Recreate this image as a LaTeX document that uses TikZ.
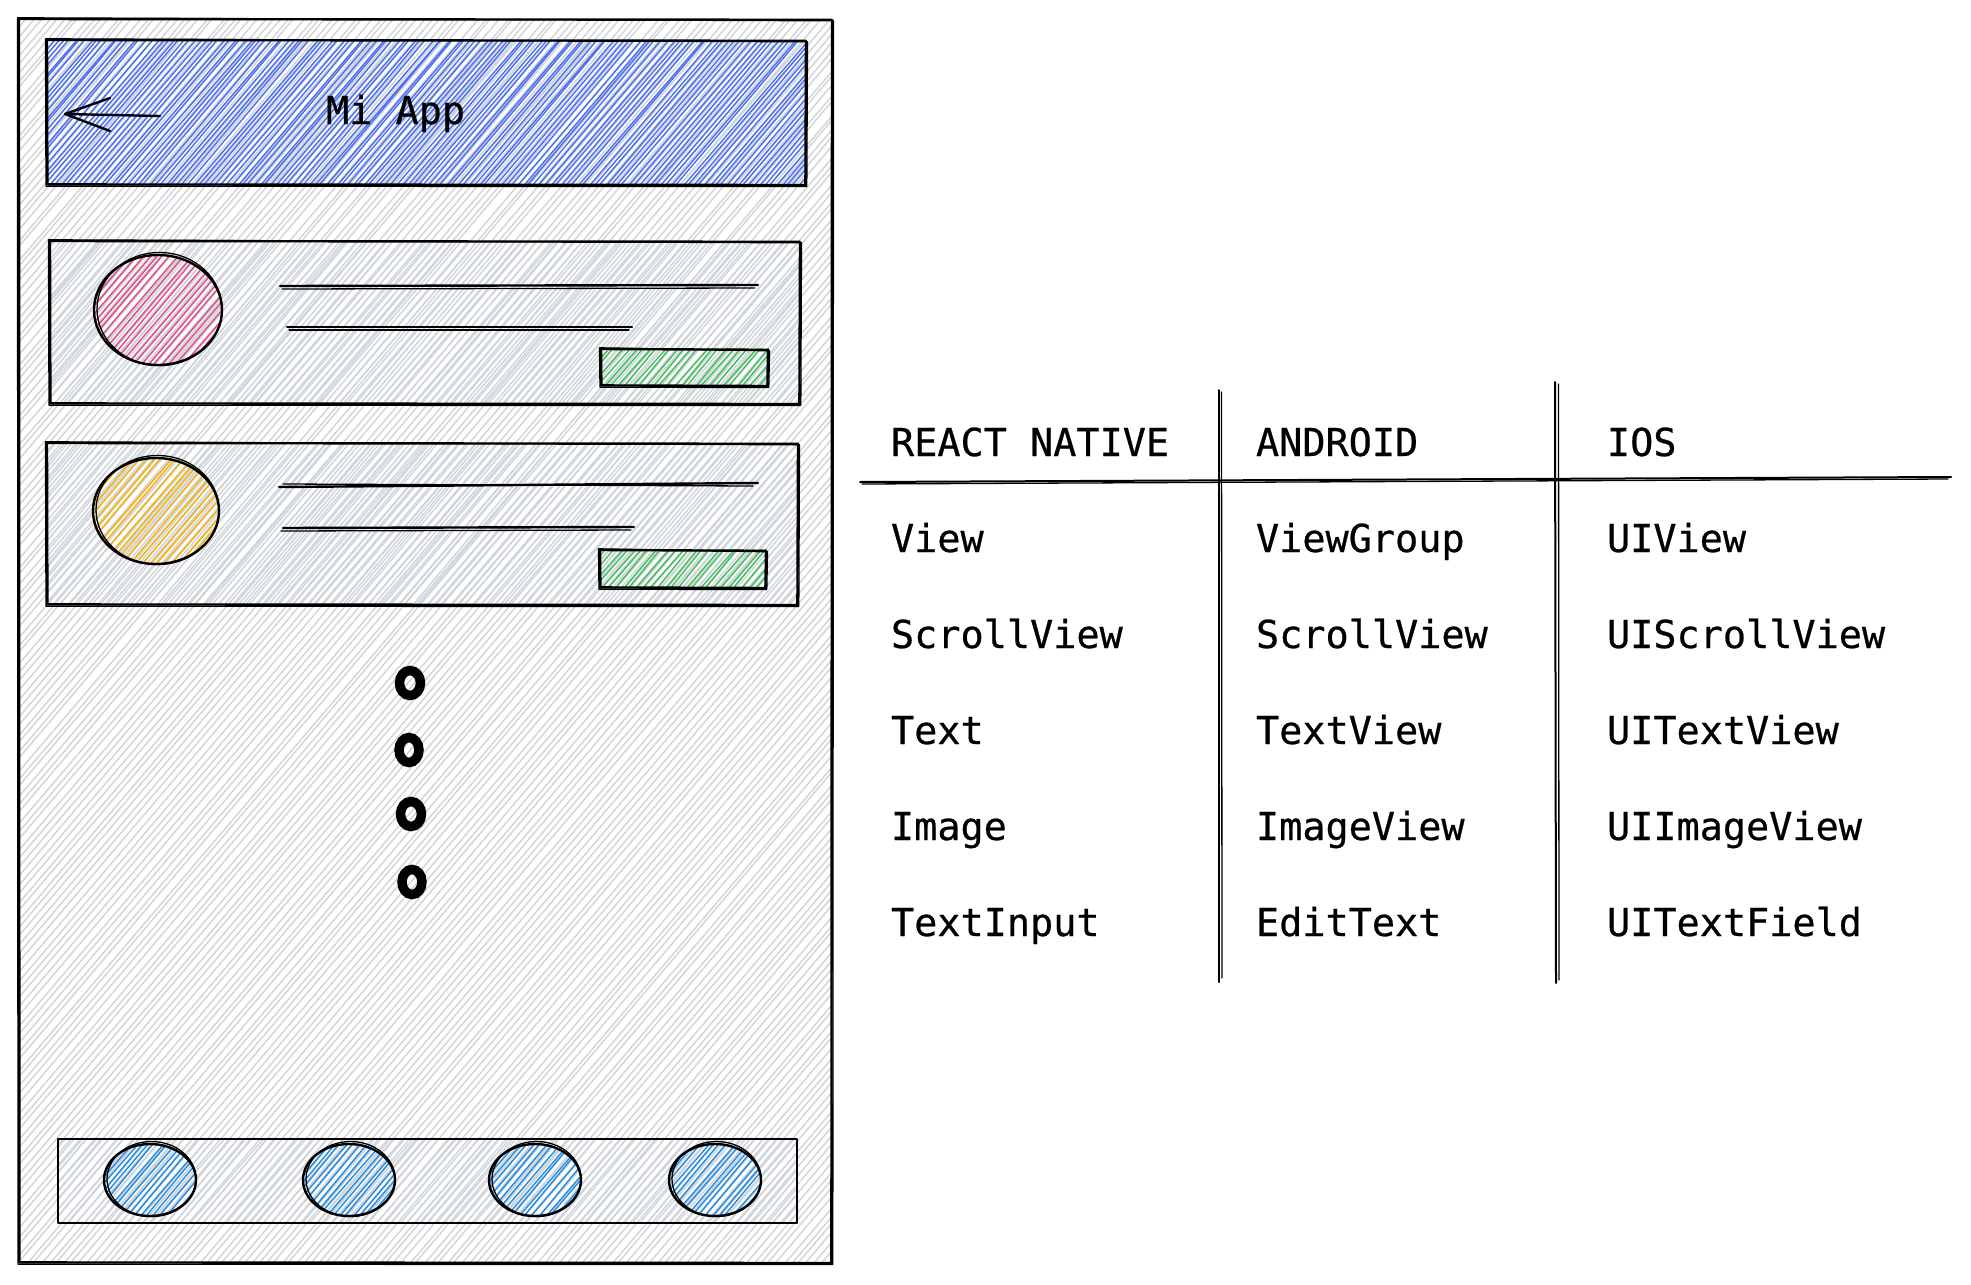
\documentclass[tikz,border=0pt]{standalone}
\usepackage{fontspec}
\newfontfamily\codefont{DejaVu Sans Mono}[FakeBold=0.6]
\definecolor{hgray}{HTML}{CED4DA}
\definecolor{hblue}{HTML}{4C6EF5}
\definecolor{hred}{HTML}{E64980}
\definecolor{hyellow}{HTML}{FAB005}
\definecolor{hgreen}{HTML}{40C057}
\definecolor{hsky}{HTML}{228BE6}
\tikzset{
  every node/.style={inner sep=0pt, outer sep=0pt},
  lbl/.style={font=\codefont\fontsize{38.5}{40}\selectfont, anchor=base west, text=black},
  ink/.style={draw=black, line width=2.4pt, line join=round, line cap=round},
  inkthin/.style={draw=black, line width=1.3pt, line join=round, line cap=round},
  hgline/.style={draw=hgray, line width=1.4pt},
  hbline/.style={draw=hblue, line width=1.4pt},
  hrline/.style={draw=hred, line width=1.4pt},
  hyline/.style={draw=hyellow, line width=1.4pt},
  hgrline/.style={draw=hgreen, line width=1.4pt},
  hsline/.style={draw=hsky, line width=1.4pt},
  dotring/.style={draw=black, line width=9.5pt},
  rule/.style={draw=black, line width=2pt, line cap=round},
}
% #1 clip path, #2 x1, #3 y1, #4 x2, #5 y2, #6 style, #7 gap
\newcommand{\hatchfill}[7]{%
  \begin{scope}
  \clip #1;
  \pgfmathsetmacro{\hh}{#5-(#3)}
  \pgfmathsetmacro{\dd}{\hh*0.85}
  \pgfmathtruncatemacro{\nn}{(#4-(#2)+\dd)/#7+1}
  \foreach \k in {0,...,\nn}{
    \pgfmathsetmacro{\ss}{#2-\dd+\k*#7+1.5*rand}
    \draw[#6] (\ss,#5) -- ({\ss+\dd+2*rand},#3);
  }
  \end{scope}}
% rough rectangle: #1 x1 #2 y1 #3 x2 #4 y2
\newcommand{\roughrect}[4]{%
  \draw[ink] (#1,#2) -- (#3,#2+0.8) -- (#3-0.6,#4) -- (#1+0.4,#4-0.6) -- cycle;
  \draw[inkthin] (#1-1.5,#2-1.2) -- (#3+1.5,#2+1.8) -- (#3+0.8,#4+1.5) -- (#1-1,#4+1.2) -- cycle;}
% rough ellipse: #1 cx #2 cy #3 rx #4 ry
\newcommand{\roughellipse}[4]{%
  \draw[ink] (#1,#2) ellipse [x radius=#3 pt, y radius=#4 pt];
  \draw[inkthin] (#1+1.5,#2-1) ellipse [x radius=#3 pt-1.5pt, y radius=#4 pt+1.5pt];}
\begin{document}
\begin{tikzpicture}[x=1pt,y=-1pt]
\pgfmathsetseed{7}
\useasboundingbox (0,0) rectangle (1971,1285);

% ---------- phone ----------
\hatchfill{(19,19) rectangle (833,1264)}{19}{19}{833}{1264}{hgline}{7.5}
\roughrect{19}{19}{832}{1263}

% header
\hatchfill{(47,40) rectangle (806,186)}{47}{40}{806}{186}{hgline}{9}
\hatchfill{(47,40) rectangle (806,186)}{47}{40}{806}{186}{hbline}{5.5}
\roughrect{47}{40}{806}{185}
\coordinate (arrtail) at (160,116);
\coordinate (arrtip) at (65,114);
\draw[ink] (arrtail) -- (arrtip);
\draw[ink] (110,98) -- (arrtip) -- (110,131);
\node[lbl] (title) at (326,124) {Mi App};

% card 1
\hatchfill{(50,241) rectangle (801,404)}{50}{241}{801}{404}{hgline}{7.5}
\roughrect{50}{241}{800}{404}
\hatchfill{(158,310) ellipse [x radius=64pt, y radius=55pt]}{94}{255}{222}{365}{hrline}{7}
\roughellipse{158}{310}{64}{55}
\draw[ink] (280,286) -- (758,285);
\draw[inkthin] (282,289) -- (755,288);
\draw[ink] (287,327) -- (632,327);
\draw[inkthin] (289,330) -- (629,330);
\hatchfill{(601,348) rectangle (769,387)}{601}{348}{769}{387}{hgrline}{7}
\roughrect{601}{349}{768}{386}

% card 2
\hatchfill{(47,443) rectangle (798,605)}{47}{443}{798}{605}{hgline}{7.5}
\roughrect{47}{443}{798}{605}
\hatchfill{(156,511) ellipse [x radius=63pt, y radius=53pt]}{93}{458}{219}{564}{hyline}{7}
\roughellipse{156}{511}{63}{53}
\draw[ink] (279,487) -- (758,483);
\draw[inkthin] (283,484) -- (753,486);
\draw[ink] (283,528) -- (634,527);
\draw[inkthin] (281,531) -- (631,530);
\hatchfill{(600,549) rectangle (767,589)}{600}{549}{767}{589}{hgrline}{7}
\roughrect{600}{550}{766}{588}

% dots
\draw[dotring] (410,683) ellipse [x radius=10.5pt, y radius=12.5pt];
\draw[dotring] (409,750) ellipse [x radius=10pt, y radius=12.5pt];
\draw[dotring] (411,814) ellipse [x radius=10.5pt, y radius=12.5pt];
\draw[dotring] (412,882) ellipse [x radius=10pt, y radius=12.5pt];

% bottom bar
\hatchfill{(58,1139) rectangle (797,1223)}{58}{1139}{797}{1223}{hgline}{7.5}
\draw[ink] (58,1139) rectangle (797,1223);
\foreach \cx in {150,349,535,715}{
  \hatchfill{(\cx,1180) ellipse [x radius=45pt, y radius=35pt]}{\cx-46}{1144}{\cx+46}{1216}{hsline}{6.5}
  \roughellipse{\cx}{1180}{46}{36}
}

% ---------- table ----------
\coordinate (hl) at (860,482);
\coordinate (hr) at (1951,477);
\draw[rule] (hl) -- (hr);
\draw[inkthin] (862,484) -- (1948,479);
\coordinate (v1t) at (1219,390);
\coordinate (v1b) at (1219,982);
\draw[rule] (v1t) -- (v1b);
\draw[inkthin] (1221.5,392) -- (1222,978);
\coordinate (v2t) at (1555,382);
\coordinate (v2b) at (1556,983);
\draw[rule] (v2t) -- (v2b);
\draw[inkthin] (1558.5,384) -- (1559,980);

\node[lbl] (h1) at (891,456) {REACT NATIVE};
\node[lbl] (h2) at (1256,456) {ANDROID};
\node[lbl] (h3) at (1607,456) {IOS};

\node[lbl] (r1a) at (891,552) {View};
\node[lbl] (r1b) at (1256,552) {ViewGroup};
\node[lbl] (r1c) at (1607,552) {UIView};

\node[lbl] (r2a) at (891,648) {ScrollView};
\node[lbl] (r2b) at (1256,648) {ScrollView};
\node[lbl] (r2c) at (1607,648) {UIScrollView};

\node[lbl] (r3a) at (891,744) {Text};
\node[lbl] (r3b) at (1256,744) {TextView};
\node[lbl] (r3c) at (1607,744) {UITextView};

\node[lbl] (r4a) at (891,840) {Image};
\node[lbl] (r4b) at (1256,840) {ImageView};
\node[lbl] (r4c) at (1607,840) {UIImageView};

\node[lbl] (r5a) at (891,936) {TextInput};
\node[lbl] (r5b) at (1256,936) {EditText};
\node[lbl] (r5c) at (1607,936) {UITextField};
\end{tikzpicture}
\end{document}
